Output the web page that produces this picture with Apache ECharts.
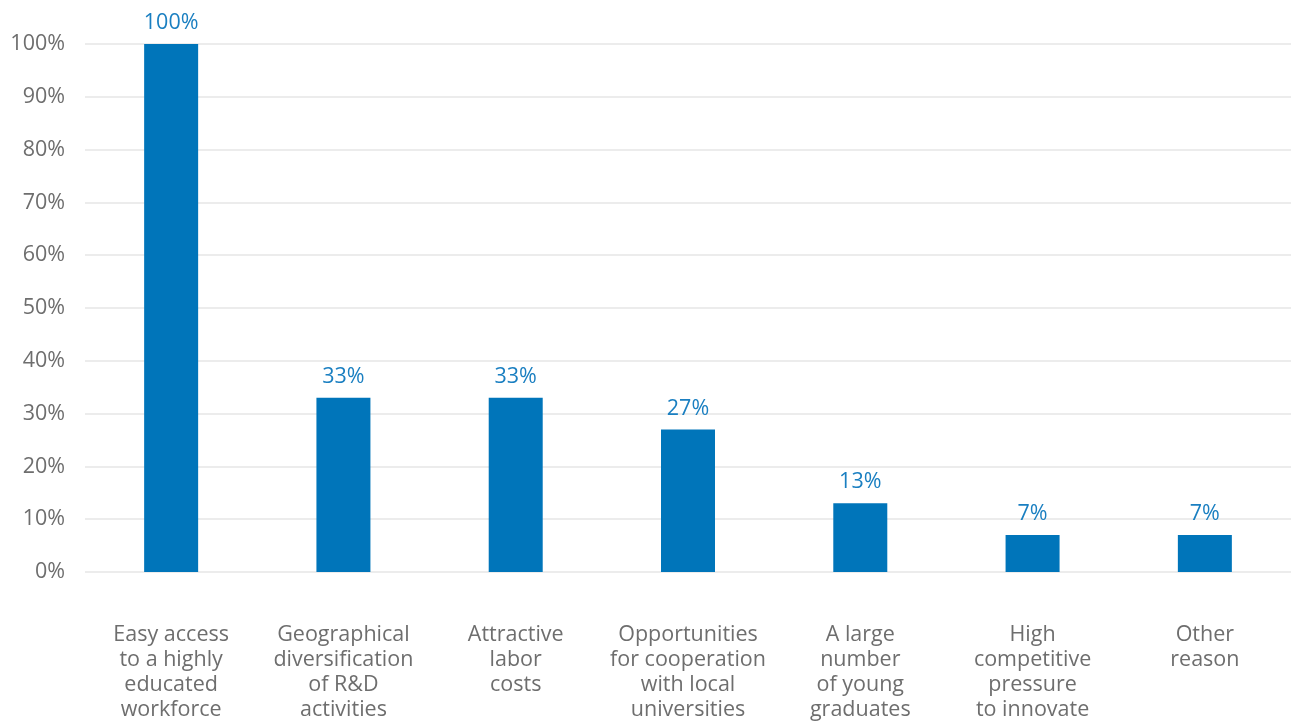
<!DOCTYPE html>
<html>
<head>
<meta charset="utf-8">
<style>
  html, body { margin: 0; padding: 0; background: #ffffff; }
  #chart { width: 1291px; height: 722px; }
</style>
<script src="https://cdn.jsdelivr.net/npm/echarts@6/dist/echarts.min.js"></script>
</head>
<body>
<div id="chart"></div>
<script>
// Reasons for locating R&D activities (share of respondents, %)
const categories = [
  'Easy access\nto a highly\neducated\nworkforce',
  'Geographical\ndiversification\nof R&D\nactivities',
  'Attractive\nlabor\ncosts',
  'Opportunities\nfor cooperation\nwith local\nuniversities',
  'A large\nnumber\nof young\ngraduates',
  'High\ncompetitive\npressure\nto innovate',
  'Other\nreason'
];
const shares = [100, 33, 33, 27, 13, 7, 7];

const FONT = '"Open Sans", "Noto Sans", sans-serif';

const chart = echarts.init(document.getElementById('chart'), null, { renderer: 'canvas' });
chart.setOption({
  animation: false,
  backgroundColor: '#ffffff',
  grid: { left: 85, right: 0, top: 44, bottom: 150, containLabel: false },
  xAxis: {
    type: 'category',
    data: categories,
    axisLine: { show: false },
    axisTick: { show: false },
    axisLabel: {
      interval: 0,
      margin: 50,
      verticalAlign: 'top',
      color: '#6e6e6e',
      fontFamily: FONT,
      fontSize: 21.5,
      lineHeight: 25
    }
  },
  yAxis: {
    type: 'value',
    min: 0,
    max: 100,
    interval: 10,
    axisLine: { show: false },
    axisTick: { show: false },
    splitLine: { lineStyle: { color: '#e6e6e6', width: 1.5 } },
    axisLabel: {
      formatter: '{value}%',
      margin: 20,
      color: '#6e6e6e',
      fontFamily: FONT,
      fontSize: 21.5
    }
  },
  series: [{
    type: 'bar',
    data: shares,
    barWidth: 54,
    itemStyle: { color: '#0075ba' },
    label: {
      show: true,
      position: 'top',
      distance: 10,
      formatter: '{c}%',
      color: '#1a7fc1',
      fontFamily: FONT,
      fontSize: 21.5
    }
  }]
});
</script>
</body>
</html>
